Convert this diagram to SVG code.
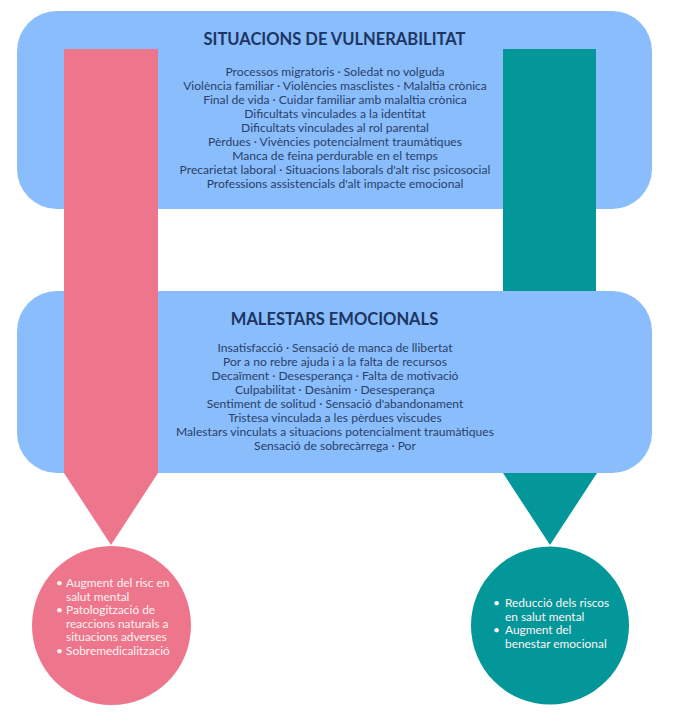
<svg xmlns="http://www.w3.org/2000/svg" width="673" height="722" viewBox="0 0 673 722">
<style>
.box{fill:#89BDFB}
.pink{fill:#EE768C}
.teal{fill:#03979A}
.title{font-family:Lato,"Open Sans","Liberation Sans",sans-serif;font-weight:bold;font-size:16.5px;fill:#1D3563;text-anchor:middle}
.body{font-family:Lato,"Open Sans","Liberation Sans",sans-serif;font-size:12.1px;fill:#2A3F6A;text-anchor:middle}
.ct{font-family:Lato,"Open Sans","Liberation Sans",sans-serif;font-size:11.9px;fill:#FFF3F3}
</style>
<rect width="673" height="722" fill="#FFFFFF"/>
<g id="situacions">
<rect class="box" x="17" y="11" width="635" height="198" rx="40" ry="40"/>
</g>
<g id="connectors">
<rect class="teal" x="503" y="49" width="93" height="250"/>
</g>
<g id="malestars">
<rect class="box" x="17" y="291" width="635" height="182" rx="40" ry="40"/>
</g>
<g id="connectors-front">
<rect class="pink" x="64" y="49" width="94" height="424"/>
<polygon class="pink" points="64,473 158,473 111,545"/>
<polygon class="teal" points="503,473 597,473 550,545"/>
</g>
<g id="situacions-text">
<text class="title" x="334.5" y="45">SITUACIONS DE VULNERABILITAT</text>
<text class="body" x="335" y="76">Processos migratoris · Soledat no volguda</text>
<text class="body" x="335" y="90">Violència familiar · Violències masclistes · Malaltia crònica</text>
<text class="body" x="335" y="104">Final de vida · Cuidar familiar amb malaltia crònica</text>
<text class="body" x="335" y="118">Dificultats vinculades a la identitat</text>
<text class="body" x="335" y="132">Dificultats vinculades al rol parental</text>
<text class="body" x="335" y="146">Pèrdues · Vivències potencialment traumàtiques</text>
<text class="body" x="335" y="160">Manca de feina perdurable en el temps</text>
<text class="body" x="335" y="174">Precarietat laboral · Situacions laborals d'alt risc psicosocial</text>
<text class="body" x="335" y="188">Professions assistencials d'alt impacte emocional</text>
</g>
<g id="malestars-text">
<text class="title" x="334.5" y="325">MALESTARS EMOCIONALS</text>
<text class="body" x="335" y="352">Insatisfacció · Sensació de manca de llibertat</text>
<text class="body" x="335" y="366">Por a no rebre ajuda i a la falta de recursos</text>
<text class="body" x="335" y="380">Decaïment · Desesperança · Falta de motivació</text>
<text class="body" x="335" y="394">Culpabilitat · Desànim · Desesperança</text>
<text class="body" x="335" y="408">Sentiment de solitud · Sensació d'abandonament</text>
<text class="body" x="335" y="422">Tristesa vinculada a les pèrdues viscudes</text>
<text class="body" x="335" y="436">Malestars vinculats a situacions potencialment traumàtiques</text>
<text class="body" x="335" y="450">Sensació de sobrecàrrega · Por</text>
</g>
<g id="risc">
<circle class="pink" cx="111.5" cy="625.5" r="79.5"/>
<text class="ct" x="56" y="587">•</text>
<text class="ct" x="66" y="587">Augment del risc en</text>
<text class="ct" x="66" y="600.5">salut mental</text>
<text class="ct" x="56" y="614">•</text>
<text class="ct" x="66" y="614">Patologització de</text>
<text class="ct" x="66" y="627.5">reaccions naturals a</text>
<text class="ct" x="66" y="641">situacions adverses</text>
<text class="ct" x="56" y="654.5">•</text>
<text class="ct" x="66" y="654.5">Sobremedicalització</text>
</g>
<g id="benestar">
<circle class="teal" cx="550" cy="625.5" r="79"/>
<text class="ct" x="493" y="607">•</text>
<text class="ct" x="505" y="607">Reducció dels riscos</text>
<text class="ct" x="505" y="620.5">en salut mental</text>
<text class="ct" x="493" y="634">•</text>
<text class="ct" x="505" y="634">Augment del</text>
<text class="ct" x="505" y="647.5">benestar emocional</text>
</g>
</svg>
